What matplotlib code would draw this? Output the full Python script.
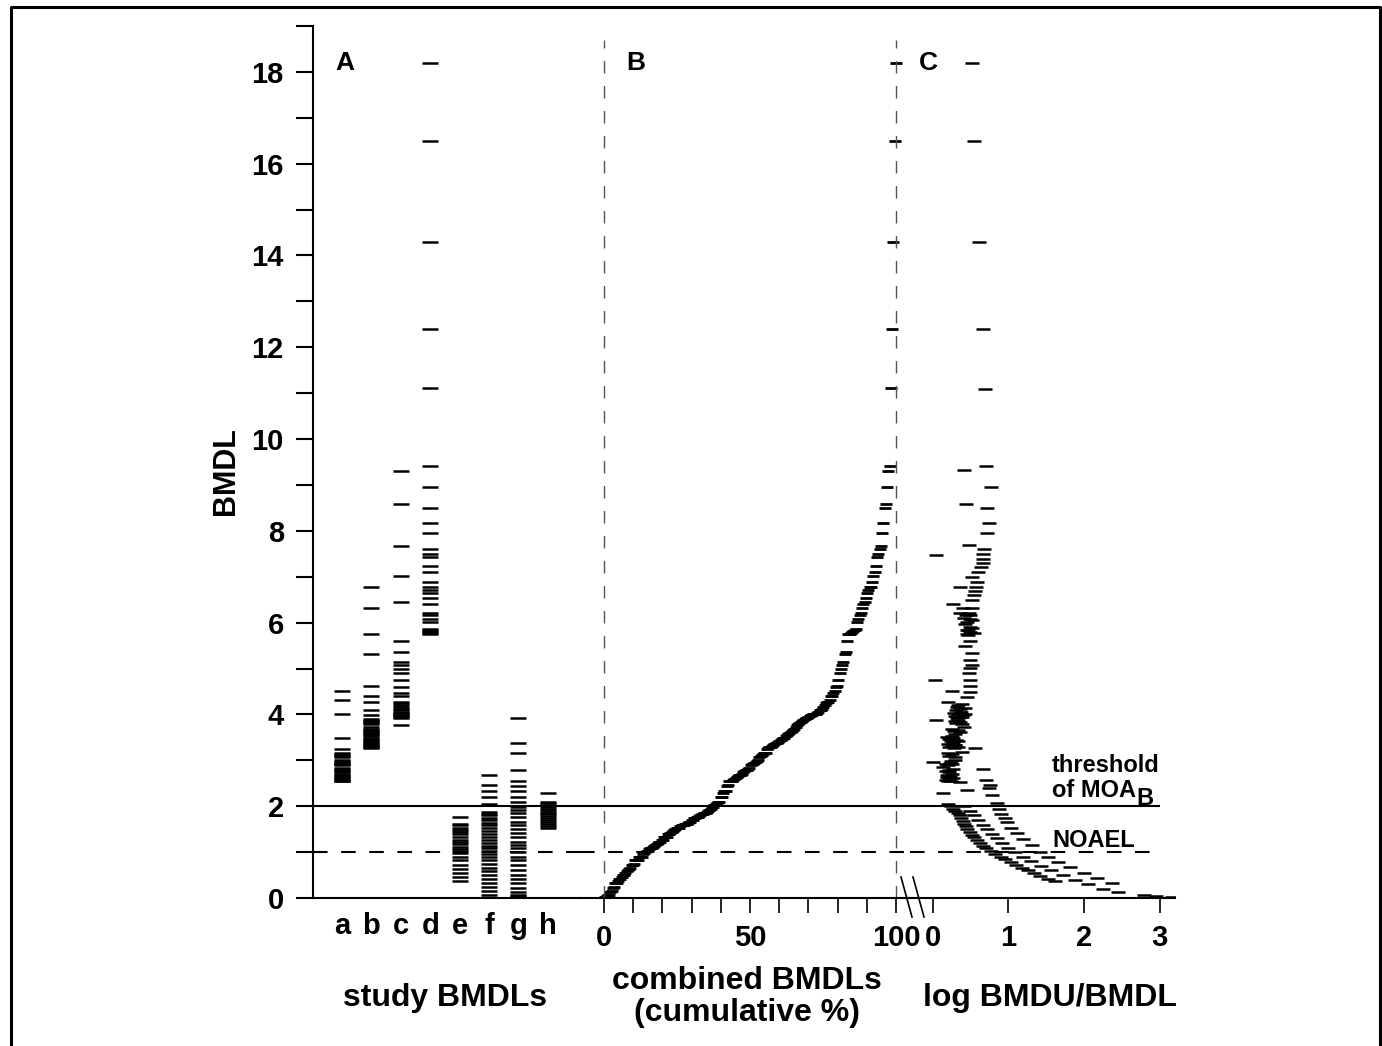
import matplotlib
matplotlib.use("Agg")
import matplotlib.pyplot as plt
from matplotlib.lines import Line2D
import numpy as np

plt.rcParams['font.family'] = ['Liberation Sans', 'DejaVu Sans']
plt.rcParams['font.weight'] = 'bold'

# ---- data ----
study_labels = ['a', 'b', 'c', 'd', 'e', 'f', 'g', 'h']

bmdl_a = [4.52, 4.32, 4.01, 3.48, 3.25, 3.15, 3.13, 3.11, 3.09, 3.07, 3.01, 2.99, 2.97,
          2.95, 2.93, 2.91, 2.89, 2.83, 2.81, 2.79, 2.77, 2.75, 2.70, 2.68, 2.66, 2.64,
          2.62, 2.60, 2.58, 2.56, 2.54]
bmdl_b = [6.78, 6.31, 5.75, 5.32, 4.62, 4.40, 4.26, 4.10, 3.99, 3.90, 3.88, 3.86, 3.84,
          3.82, 3.80, 3.73, 3.68, 3.66, 3.64, 3.62, 3.60, 3.58, 3.56, 3.54, 3.48, 3.46,
          3.44, 3.42, 3.40, 3.38, 3.36, 3.34, 3.32, 3.30, 3.28, 3.26]
bmdl_c = [9.31, 8.59, 7.67, 7.02, 6.44, 5.60, 5.35, 5.15, 5.08, 5.00, 4.90, 4.76, 4.60,
          4.47, 4.40, 4.28, 4.24, 4.20, 4.16, 4.12, 4.09, 4.06, 4.04, 4.02, 4.00, 3.98,
          3.96, 3.94, 3.92, 3.78]
bmdl_d = [18.2, 16.5, 14.3, 12.4, 11.11, 9.42, 8.96, 8.49, 8.16, 7.95, 7.60, 7.49, 7.42,
          7.23, 7.10, 6.88, 6.78, 6.72, 6.64, 6.53, 6.41, 6.22, 6.16, 6.09, 6.01, 5.86,
          5.84, 5.82, 5.80, 5.78, 5.75]
bmdl_e = [1.77, 1.62, 1.58, 1.53, 1.48, 1.44, 1.39, 1.33, 1.27, 1.22, 1.17, 1.12, 1.07,
          1.02, 0.97, 0.90, 0.82, 0.72, 0.63, 0.55, 0.45, 0.37]
bmdl_f = [2.68, 2.46, 2.33, 2.19, 2.04, 1.88, 1.84, 1.80, 1.75, 1.70, 1.64, 1.58, 1.52,
          1.46, 1.40, 1.33, 1.27, 1.20, 1.14, 1.08, 1.02, 0.96, 0.90, 0.82, 0.75, 0.66,
          0.58, 0.50, 0.42, 0.33, 0.25, 0.15, 0.07]
bmdl_g = [3.93, 3.37, 3.17, 2.79, 2.56, 2.44, 2.33, 2.21, 2.10, 1.99, 1.92, 1.85, 1.76,
          1.66, 1.59, 1.50, 1.41, 1.32, 1.23, 1.15, 1.08, 1.01, 0.90, 0.83, 0.72, 0.61,
          0.50, 0.41, 0.32, 0.21, 0.14, 0.07, 0.04, 0.02]
bmdl_h = [2.28, 2.09, 2.06, 2.02, 1.98, 1.94, 1.90, 1.86, 1.82, 1.78, 1.74, 1.70, 1.66,
          1.61, 1.57, 1.52]

# panel C: BMDL and log(BMDU/BMDL) pairs
c_upper_bmdl = [18.2, 16.5, 14.3, 12.4, 11.1, 9.41, 9.33, 8.96, 8.59, 8.50, 8.16, 7.95,
                7.69, 7.60, 7.48, 7.50, 7.38, 7.30, 7.22, 7.11, 7.00, 6.89, 6.78, 6.77,
                6.70, 6.60, 6.49, 6.41, 6.31, 6.31, 6.20, 6.17, 6.11, 6.06, 5.98, 5.91,
                5.83, 5.78, 5.73, 5.59, 5.48, 5.33, 5.19, 5.08, 5.01, 4.90, 4.76, 4.76,
                4.62, 4.52, 4.48, 4.37, 4.27, 4.23, 4.16, 4.13, 4.05, 4.00, 3.95, 3.88,
                3.88, 3.80, 3.73, 3.62, 3.51, 3.48, 3.41, 3.33, 3.26, 3.19, 3.08, 2.97,
                2.94, 2.86, 2.75, 2.68, 2.53, 2.36, 2.28]
c_upper_log = [0.52, 0.55, 0.61, 0.67, 0.69, 0.71, 0.41, 0.77, 0.44, 0.72, 0.74, 0.72,
               0.48, 0.68, 0.05, 0.67, 0.66, 0.67, 0.64, 0.60, 0.52, 0.59, 0.36, 0.57,
               0.56, 0.54, 0.52, 0.27, 0.40, 0.52, 0.36, 0.49, 0.41, 0.52, 0.43, 0.49,
               0.45, 0.54, 0.47, 0.49, 0.43, 0.52, 0.49, 0.52, 0.49, 0.48, 0.03, 0.49,
               0.49, 0.25, 0.49, 0.45, 0.20, 0.39, 0.32, 0.43, 0.36, 0.43, 0.39, 0.05,
               0.34, 0.39, 0.41, 0.36, 0.19, 0.27, 0.34, 0.30, 0.56, 0.39, 0.30, 0.01,
               0.23, 0.14, 0.21, 0.19, 0.36, 0.45, 0.14]
c_blob_bmdl = [5.76, 5.80, 5.84, 5.88, 6.01, 6.09, 6.16, 6.22, 3.92, 3.94, 3.96, 3.98,
               4.02, 4.04, 4.06, 4.09, 4.12, 4.20, 3.26, 3.28, 3.30, 3.32, 3.34, 3.36,
               3.38, 3.42, 3.44, 3.46, 3.54, 3.58, 3.64, 3.66, 3.68, 3.82, 3.84, 3.86,
               2.54, 2.56, 2.58, 2.60, 2.62, 2.64, 2.66, 2.70, 2.77, 2.79, 2.81, 2.89,
               2.91, 2.93, 2.99, 3.01, 3.09, 3.13, 3.15]
c_blob_log = [0.45, 0.50, 0.47, 0.52, 0.46, 0.50, 0.44, 0.48, 0.32, 0.36, 0.30, 0.40,
              0.34, 0.28, 0.38, 0.31, 0.36, 0.33, 0.28, 0.22, 0.33, 0.25, 0.30, 0.20,
              0.27, 0.24, 0.31, 0.22, 0.26, 0.30, 0.28, 0.33, 0.26, 0.31, 0.36, 0.29,
              0.20, 0.24, 0.18, 0.22, 0.27, 0.19, 0.23, 0.25, 0.17, 0.22, 0.27, 0.20,
              0.26, 0.18, 0.24, 0.29, 0.22, 0.26, 0.20]
c_left_bmdl = [2.05, 2.00, 1.95, 1.90, 1.85, 1.80, 1.74, 1.68, 1.62, 1.56, 1.50, 1.44,
               1.38, 1.32, 1.26, 1.20, 1.14, 1.08, 1.02, 0.96, 0.90, 0.84, 0.78, 0.72,
               0.66, 0.60, 0.54, 0.48, 0.42, 0.36]
c_left_log = [0.20, 0.24, 0.27, 0.30, 0.33, 0.36, 0.38, 0.40, 0.42, 0.44, 0.46, 0.49,
              0.52, 0.55, 0.58, 0.62, 0.66, 0.71, 0.77, 0.83, 0.90, 0.96, 1.03, 1.10,
              1.18, 1.26, 1.34, 1.42, 1.52, 1.62]
c_mid_bmdl = [2.00, 1.90, 1.80, 1.70, 1.60, 1.50, 1.40, 1.30, 1.20, 1.10, 1.00, 0.90,
              0.80, 0.70, 0.60, 0.50, 0.40, 0.30, 0.20, 0.12]
c_mid_log = [0.42, 0.50, 0.55, 0.60, 0.66, 0.72, 0.78, 0.85, 0.92, 1.00, 1.09, 1.19,
             1.30, 1.43, 1.57, 1.72, 1.88, 2.05, 2.25, 2.45]
c_right_bmdl = [2.82, 2.57, 2.46, 2.39, 2.24, 2.06, 1.95, 1.84, 1.75, 1.66, 1.52, 1.41,
                1.28, 1.16, 1.01, 0.90, 0.79, 0.68, 0.55, 0.43, 0.32, 0.07, 0.05, 0.03]
c_right_log = [0.67, 0.71, 0.76, 0.74, 0.78, 0.85, 0.88, 0.91, 0.95, 0.98, 1.04, 1.11,
               1.20, 1.31, 1.42, 1.53, 1.66, 1.82, 2.00, 2.17, 2.37, 2.79, 2.95, 3.16]

studies = [bmdl_a, bmdl_b, bmdl_c, bmdl_d, bmdl_e, bmdl_f, bmdl_g, bmdl_h]

# combined, cumulative %
combined = np.sort(np.concatenate([np.array(s) for s in studies]))
cum_pct = 100.0 * np.arange(1, len(combined) + 1) / len(combined)

c_bmdl = c_upper_bmdl + c_blob_bmdl + c_left_bmdl + c_mid_bmdl + c_right_bmdl
c_log = c_upper_log + c_blob_log + c_left_log + c_mid_log + c_right_log

# ---- figure ----
W, H = 1382, 1046
fig = plt.figure(figsize=(W / 100, H / 100), dpi=100)

bot = (H - 898) / H
top = (H - 26) / H
hgt = top - bot
ax_a = fig.add_axes([313 / W, bot, (580 - 313) / W, hgt])
ax_b = fig.add_axes([580 / W, bot, (910 - 580) / W, hgt])
ax_c = fig.add_axes([910 / W, bot, (1175 - 910) / W, hgt])

for ax in (ax_a, ax_b, ax_c):
    ax.set_ylim(0, 19)
    ax.patch.set_alpha(0)
    for s in ('top', 'right'):
        ax.spines[s].set_visible(False)
    ax.spines['bottom'].set_linewidth(1.5)
    ax.spines['left'].set_linewidth(1.5)
for ax in (ax_b, ax_c):
    ax.spines['left'].set_visible(False)
    ax.tick_params(axis='y', left=False, labelleft=False)

ax_a.set_xlim(-0.986, 8.095)
ax_b.set_xlim(-8.22, 104.8)
ax_c.set_xlim(-0.300, 3.205)

# panel A
for i, vals in enumerate(studies):
    ax_a.plot([i] * len(vals), vals, ls='none', marker='_', ms=11, mew=1.8, color='black')
ax_a.set_xticks(range(len(study_labels)))
ax_a.set_xticklabels(study_labels, fontsize=21, fontweight='bold')
ax_a.tick_params(axis='x', length=0, pad=10)
ax_a.set_yticks(range(0, 19, 2))
ax_a.set_yticks(range(1, 20, 2), minor=True)
ax_a.tick_params(axis='y', which='both', length=12, width=1.5, pad=9, labelsize=21)
ax_a.set_ylabel('BMDL', fontsize=22, fontweight='bold')
ax_a.yaxis.set_label_coords(-0.27, 0.49)

# panel B
ax_b.plot(cum_pct, combined, ls='none', marker='_', ms=9, mew=2.0, color='black')
ax_b.set_xticks(range(0, 101, 10))
ax_b.set_xticklabels(['0', '', '', '', '', '50', '', '', '', '', '100'], fontsize=21)
ax_b.tick_params(axis='x', length=11, width=1.2, pad=8)
ax_b.vlines([0, 100], 0, 18.7, colors='#555555', lw=1.0, linestyles=(0, (9, 9)))

# panel C
ax_c.plot(c_log, c_bmdl, ls='none', marker='_', ms=9.5, mew=1.8, color='black')
ax_c.set_xticks([0, 1, 2, 3])
ax_c.set_xticklabels(['0', '1', '2', '3'], fontsize=21)
ax_c.tick_params(axis='x', length=11, width=1.2, pad=8)

# reference lines
for ax in (ax_a, ax_b):
    ax.axhline(2, color='black', lw=1.5)
    ax.axhline(1, color='black', lw=1.5, ls=(0, (7, 6.5)))
ax_c.hlines(2, ax_c.get_xlim()[0], 3.0, color='black', lw=1.5)
ax_c.hlines(1, ax_c.get_xlim()[0], 3.0, color='black', lw=1.5, linestyles=(0, (7, 6.5)))

# panel letters
ax_a.text(0.1, 18.2, 'A', fontsize=19, fontweight='bold', ha='center', va='center')
ax_b.text(11, 18.2, 'B', fontsize=19, fontweight='bold', ha='center', va='center')
ax_c.text(-0.06, 18.2, 'C', fontsize=19, fontweight='bold', ha='center', va='center')

# annotations
ax_c.text(1.58, 2.75, 'threshold', fontsize=17, fontweight='bold', va='baseline')
moa = ax_c.text(1.58, 2.2, 'of MOA', fontsize=17, fontweight='bold', va='baseline')
ax_c.annotate('B', xy=(1, 0), xycoords=moa, xytext=(0.5, -6), textcoords='offset points',
              fontsize=17, fontweight='bold', va='bottom')
ax_c.text(1.58, 1.12, 'NOAEL', fontsize=17, fontweight='bold', va='baseline')

# axis titles
fig.text(445 / W, 1 - 998 / H, 'study BMDLs', fontsize=23, fontweight='bold',
         ha='center', va='center')
fig.text(747 / W, 1 - 997 / H, 'combined BMDLs\n(cumulative %)', fontsize=23,
         fontweight='bold', ha='center', va='center', linespacing=1.05)
fig.text(1050 / W, 1 - 998 / H, 'log BMDU/BMDL', fontsize=23, fontweight='bold',
         ha='center', va='center')

# axis break marks
for x0 in (901, 913):
    fig.add_artist(Line2D([x0 / W, (x0 + 11) / W], [1 - 877 / H, 1 - 917 / H],
                          color='black', lw=1.2))

# outer frame
fig.add_artist(Line2D([10.5 / W, 10.5 / W, 1380 / W, 1380 / W],
                      [0, 1 - 7 / H, 1 - 7 / H, 0], color='black', lw=2.2))

fig.savefig('out.png', dpi=100)
